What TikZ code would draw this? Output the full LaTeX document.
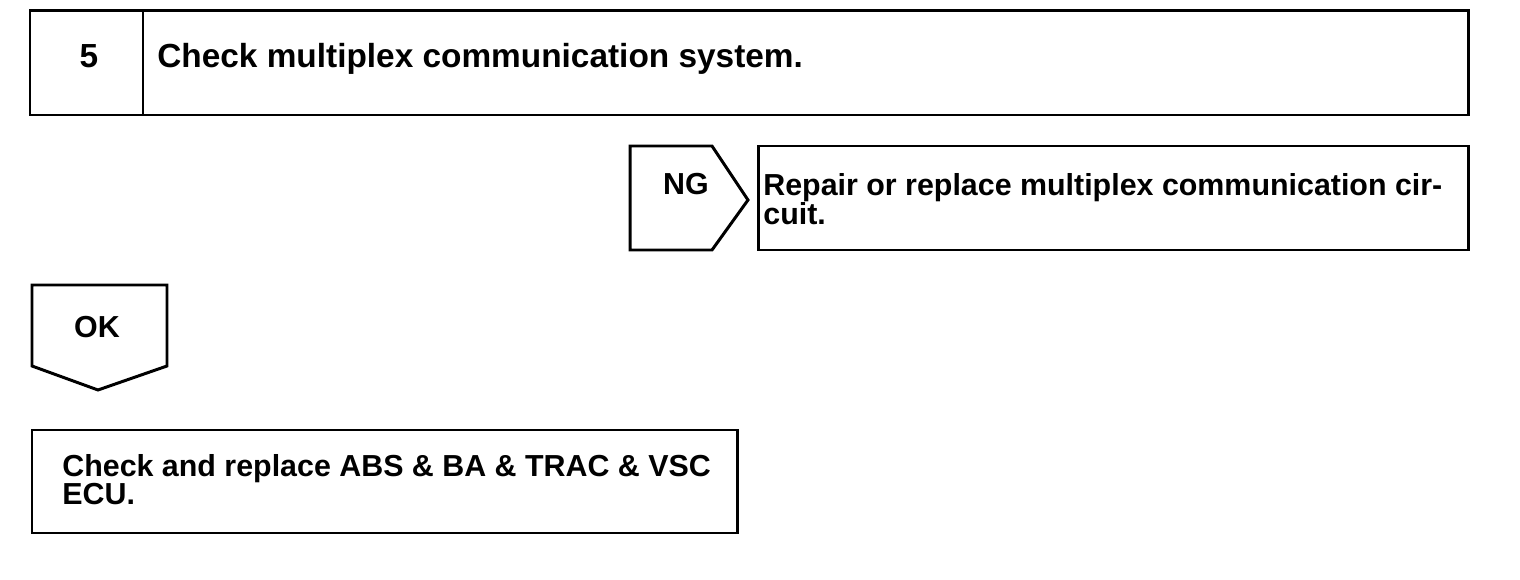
\documentclass[tikz,border=0pt]{standalone}
\usepackage{fontspec}
\setmainfont{Liberation Sans}
\usetikzlibrary{positioning}

\tikzset{
  frame/.style={draw,line width=1.7pt,line join=miter},
  txt/.style={font=\bfseries\fontsize{17.3pt}{16.5pt}\selectfont,inner sep=0pt,align=left},
  bigtxt/.style={txt,font=\bfseries\fontsize{19pt}{17pt}\selectfont},
}

\begin{document}
\begin{tikzpicture}[x=0.02cm,y=-0.02cm]
  \useasboundingbox (0,0) rectangle (1520,580);
  % step header
  \draw [frame] (30,11) rectangle (1468,115);
  \draw [frame] (143,11) -- (143,115);
  \node [bigtxt,anchor=base] (num) at (89,68) {5};
  \node [bigtxt,anchor=base west] (step) at (157,68) {Check multiplex communication system.};
  % NG branch
  \draw [frame] (630,146) -- (712,146) -- (748,200) -- (712,250) -- (630,250) -- cycle;
  \node [txt,anchor=base] (ng) at (686,195) {NG};
  \draw [frame] (758,146) rectangle (1468,250);
  \node [txt,anchor=base west] (repair) at (763,196) {Repair or replace multiplex communication cir-};
  \node [txt,below=0.58cm of repair.base west,anchor=base west] (repair2) {cuit.};
  % OK branch
  \draw [frame] (32,285) -- (167,285) -- (167,366) -- (98,390) -- (32,366) -- cycle;
  \node [txt,anchor=base] (ok) at (97,338) {OK};
  \draw [frame] (32,430) rectangle (737,533);
  \node [txt,anchor=base west] (ecu) at (62,476) {Check and replace ABS \& BA \& TRAC \& VSC};
  \node [txt,below=0.58cm of ecu.base west,anchor=base west] (ecu2) {ECU.};
\end{tikzpicture}
\end{document}
